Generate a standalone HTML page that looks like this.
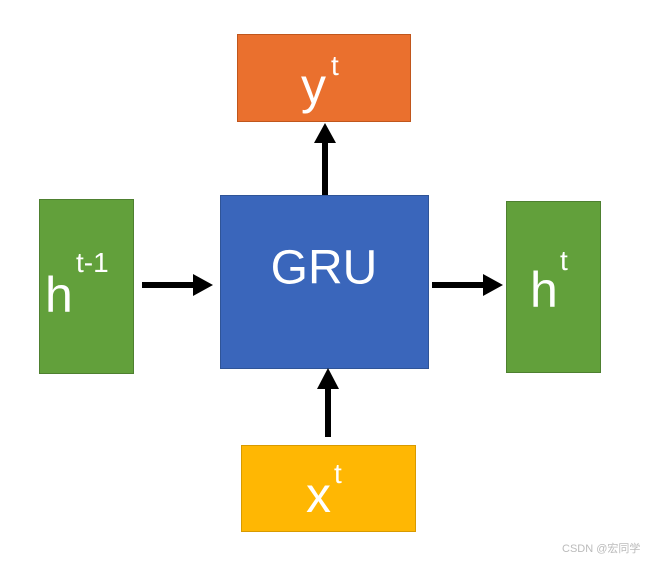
<!DOCTYPE html>
<html><head><meta charset="utf-8"><style>
html,body{margin:0;padding:0;background:#fff;width:655px;height:563px;overflow:hidden}
svg{display:block}
text{font-family:"Liberation Sans","DejaVu Sans",sans-serif;fill:#fff}
</style></head><body>
<svg width="655" height="563" viewBox="0 0 655 563" xmlns="http://www.w3.org/2000/svg">
<rect x="237.5" y="34.5" width="173" height="87" fill="#ea702e" stroke="#c0561c" stroke-width="1"/>
<rect x="220.5" y="195.5" width="208" height="173" fill="#3a66bb" stroke="#2f5497" stroke-width="1"/>
<rect x="39.5" y="199.5" width="94" height="174" fill="#62a03b" stroke="#4e8030" stroke-width="1"/>
<rect x="506.5" y="201.5" width="94" height="171" fill="#62a03b" stroke="#4e8030" stroke-width="1"/>
<rect x="241.5" y="445.5" width="174" height="86" fill="#ffb703" stroke="#d89a00" stroke-width="1"/>

<!-- arrows -->
<g fill="#000">
<rect x="322" y="140" width="6" height="55"/>
<polygon points="325,123 314,143 336,143"/>
<rect x="142" y="282" width="52" height="6"/>
<polygon points="213,285 193,274 193,296"/>
<rect x="432" y="282" width="52" height="6"/>
<polygon points="503,285 483,274 483,296"/>
<rect x="325" y="388" width="6" height="49"/>
<polygon points="328,368 317,389 339,389"/>
</g>

<text x="324" y="271" font-size="48" text-anchor="middle" dominant-baseline="middle" dy="0">GRU</text>
<text x="45" y="312" font-size="50">h</text>
<text x="76" y="272" font-size="28">t-1</text>
<text x="530" y="307" font-size="50">h</text>
<text x="560" y="270" font-size="28">t</text>
<text x="301" y="103" font-size="50">y</text>
<text x="331" y="75" font-size="28">t</text>
<text x="306" y="512" font-size="50">x</text>
<text x="334" y="483" font-size="28">t</text>
<text x="562" y="552" font-size="11" style="fill:#bbb">CSDN @宏同学</text>
</svg>
</body></html>
